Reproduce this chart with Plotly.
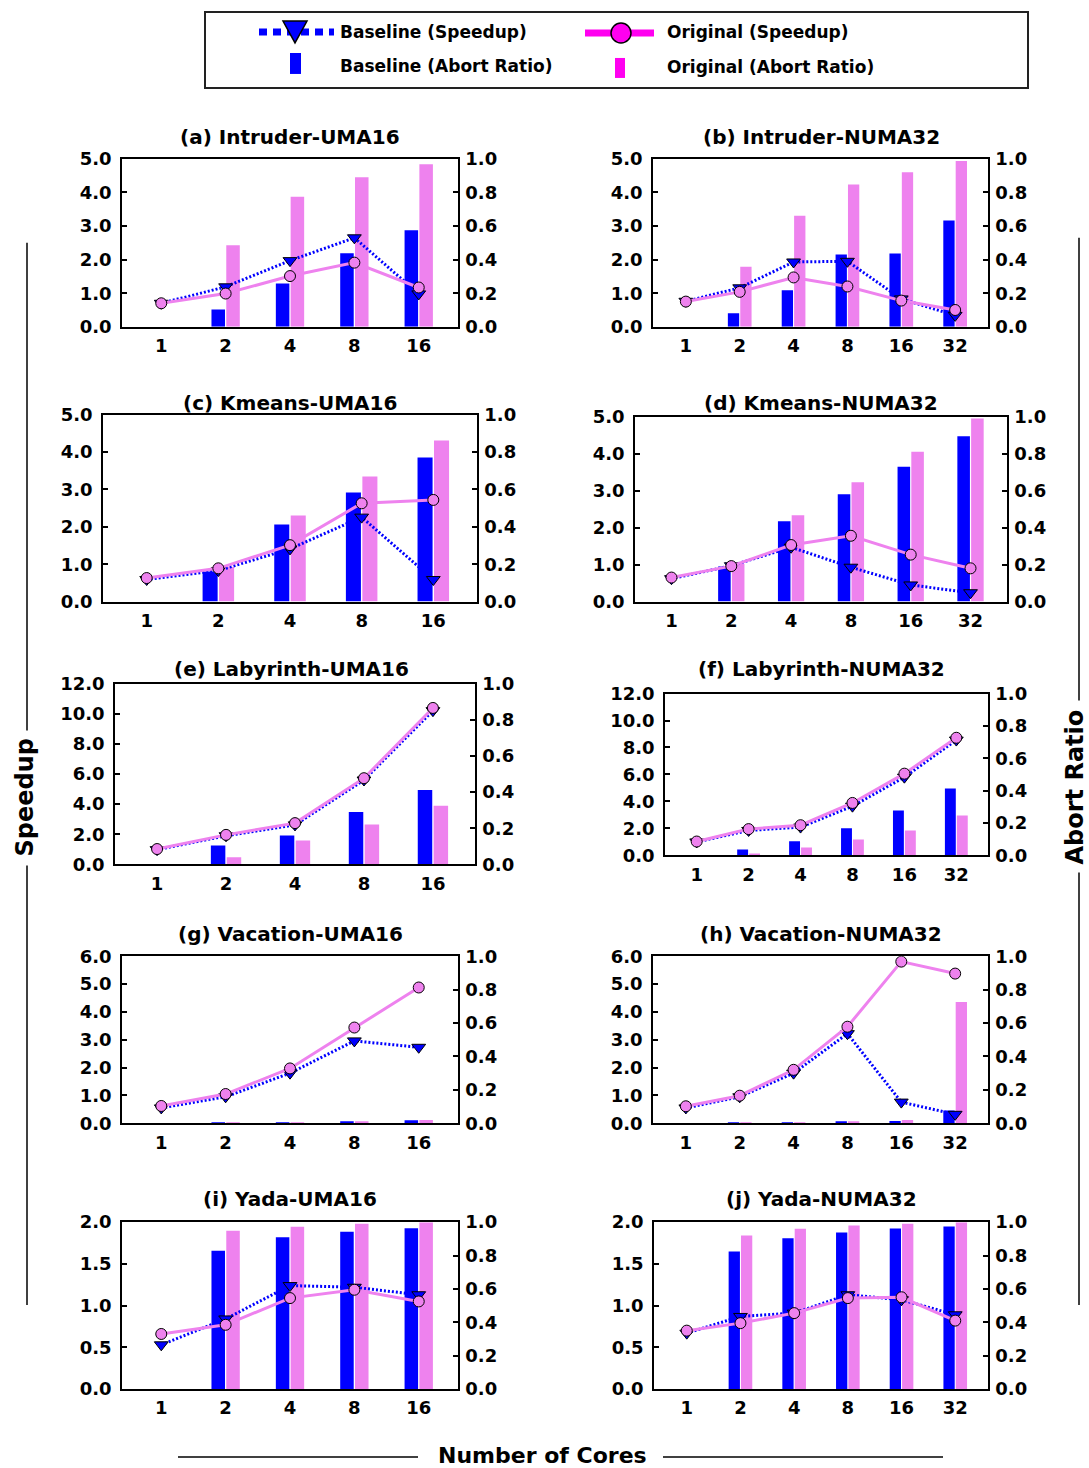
import plotly.graph_objects as go

W, H = 1089, 1468

# ---------------- data ----------------
cores_uma = ["1", "2", "4", "8", "16"]
cores_numa = ["1", "2", "4", "8", "16", "32"]

titles = ["(a) Intruder-UMA16", "(b) Intruder-NUMA32",
          "(c) Kmeans-UMA16", "(d) Kmeans-NUMA32",
          "(e) Labyrinth-UMA16", "(f) Labyrinth-NUMA32",
          "(g) Vacation-UMA16", "(h) Vacation-NUMA32",
          "(i) Yada-UMA16", "(j) Yada-NUMA32"]

speedup_max = [5, 5, 5, 5, 12, 12, 6, 6, 2, 2]
speedup_dtick = [1, 1, 1, 1, 2, 2, 1, 1, 0.5, 0.5]

# (a) Intruder-UMA16
base_speedup_a = [0.70, 1.19, 1.97, 2.65, 0.98]
orig_speedup_a = [0.70, 0.99, 1.51, 1.91, 1.17]
base_abort_a = [0.0, 0.103, 0.258, 0.438, 0.575]
orig_abort_a = [0.0, 0.486, 0.774, 0.891, 0.968]
# (b) Intruder-NUMA32
base_speedup_b = [0.76, 1.16, 1.93, 1.95, 0.83, 0.34]
orig_speedup_b = [0.75, 1.04, 1.47, 1.20, 0.78, 0.50]
base_abort_b = [0.0, 0.081, 0.218, 0.430, 0.437, 0.633]
orig_abort_b = [0.0, 0.357, 0.661, 0.847, 0.921, 0.988]
# (c) Kmeans-UMA16
base_speedup_c = [0.59, 0.83, 1.41, 2.26, 0.59]
orig_speedup_c = [0.63, 0.89, 1.51, 2.63, 2.72]
base_abort_c = [0.0, 0.161, 0.413, 0.584, 0.771]
orig_abort_c = [0.0, 0.185, 0.461, 0.670, 0.862]
# (d) Kmeans-NUMA32
base_speedup_d = [0.62, 0.97, 1.47, 0.93, 0.45, 0.24]
orig_speedup_d = [0.65, 0.96, 1.53, 1.78, 1.27, 0.90]
base_abort_d = [0.0, 0.190, 0.434, 0.580, 0.729, 0.895]
orig_abort_d = [0.0, 0.204, 0.467, 0.646, 0.810, 0.990]
# (e) Labyrinth-UMA16
base_speedup_e = [0.98, 1.90, 2.62, 5.60, 10.20]
orig_speedup_e = [1.02, 1.96, 2.74, 5.72, 10.38]
base_abort_e = [0.0, 0.105, 0.160, 0.290, 0.412]
orig_abort_e = [0.0, 0.039, 0.132, 0.220, 0.325]
# (f) Labyrinth-NUMA32
base_speedup_f = [1.00, 1.85, 2.10, 3.65, 5.80, 8.55]
orig_speedup_f = [1.03, 1.95, 2.24, 3.89, 6.06, 8.72]
base_abort_f = [0.0, 0.037, 0.088, 0.168, 0.277, 0.413]
orig_abort_f = [0.0, 0.012, 0.049, 0.099, 0.154, 0.246]
# (g) Vacation-UMA16
base_speedup_g = [0.55, 0.95, 1.80, 2.96, 2.73]
orig_speedup_g = [0.62, 1.05, 1.97, 3.44, 4.88]
base_abort_g = [0.0, 0.003, 0.003, 0.006, 0.018]
orig_abort_g = [0.0, 0.002, 0.002, 0.006, 0.020]
# (h) Vacation-NUMA32
base_speedup_h = [0.55, 0.95, 1.80, 3.22, 0.76, 0.32]
orig_speedup_h = [0.61, 0.99, 1.92, 3.47, 5.81, 5.38]
base_abort_h = [0.0, 0.003, 0.004, 0.010, 0.014, 0.076]
orig_abort_h = [0.0, 0.002, 0.003, 0.008, 0.020, 0.726]
# (i) Yada-UMA16
base_speedup_i = [0.53, 0.84, 1.24, 1.22, 1.13]
orig_speedup_i = [0.66, 0.77, 1.09, 1.19, 1.05]
base_abort_i = [0.0, 0.828, 0.910, 0.942, 0.964]
orig_abort_i = [0.0, 0.948, 0.972, 0.990, 1.000]
# (j) Yada-NUMA32
base_speedup_j = [0.67, 0.87, 0.91, 1.13, 1.07, 0.89]
orig_speedup_j = [0.70, 0.79, 0.91, 1.09, 1.10, 0.82]
base_abort_j = [0.0, 0.824, 0.904, 0.938, 0.962, 0.974]
orig_abort_j = [0.0, 0.920, 0.960, 0.980, 0.990, 1.000]

panels = [
    (cores_uma, base_speedup_a, orig_speedup_a, base_abort_a, orig_abort_a),
    (cores_numa, base_speedup_b, orig_speedup_b, base_abort_b, orig_abort_b),
    (cores_uma, base_speedup_c, orig_speedup_c, base_abort_c, orig_abort_c),
    (cores_numa, base_speedup_d, orig_speedup_d, base_abort_d, orig_abort_d),
    (cores_uma, base_speedup_e, orig_speedup_e, base_abort_e, orig_abort_e),
    (cores_numa, base_speedup_f, orig_speedup_f, base_abort_f, orig_abort_f),
    (cores_uma, base_speedup_g, orig_speedup_g, base_abort_g, orig_abort_g),
    (cores_numa, base_speedup_h, orig_speedup_h, base_abort_h, orig_abort_h),
    (cores_uma, base_speedup_i, orig_speedup_i, base_abort_i, orig_abort_i),
    (cores_numa, base_speedup_j, orig_speedup_j, base_abort_j, orig_abort_j),
]

# ---------------- layout (pixel boxes of each plot area) ----------------
boxes = [
    (122, 158, 458, 326), (653, 158, 988, 326),
    (103, 414, 477, 601), (635, 416, 1007, 601),
    (115, 683, 475, 864), (665, 693, 988, 855),
    (122, 956, 458, 1123), (653, 956, 988, 1123),
    (122, 1222, 458, 1389), (654, 1222, 988, 1389),
]
title_pos = [(290, 136), (821, 136), (290, 402), (821, 402), (291, 668),
             (821, 668), (290, 934), (821, 934), (290, 1199), (821, 1199)]

BLUE = "#0000FF"
VIOLET = "#EE82EE"
MAGENTA = "#FF00F0"
FONT = "DejaVu Sans"

# vertical calibration of the rendered page (paper spans screen rows TOP..BOT)
TOP, BOT = 10.0, 1458.0


def px(x):
    return x / W


def py(y):
    return (BOT - y) / (BOT - TOP)


fig = go.Figure()
layout = dict(
    width=W, height=H, margin=dict(l=0, r=0, t=0, b=0),
    paper_bgcolor="white", plot_bgcolor="white", showlegend=False,
    font=dict(family=FONT, color="black"),
    annotations=[], shapes=[],
)

for k, (cores, bs, os_, ba, oa) in enumerate(panels):
    xi = k + 1
    ya = 2 * k + 1   # abort ratio (right, base axis)
    ys = 2 * k + 2   # speedup (left, overlaid so lines sit above bars)
    xname = "x" if xi == 1 else f"x{xi}"
    yaname = "y" if ya == 1 else f"y{ya}"
    ysname = f"y{ys}"
    n = len(cores)
    x0, y0, x1, y1 = boxes[k]

    fig.add_trace(go.Bar(x=cores, y=ba, xaxis=xname, yaxis=yaname,
                         marker=dict(color=BLUE, line=dict(width=0)),
                         width=0.21, offset=-0.22, name="Baseline (Abort Ratio)"))
    fig.add_trace(go.Bar(x=cores, y=oa, xaxis=xname, yaxis=yaname,
                         marker=dict(color=VIOLET, line=dict(width=0)),
                         width=0.21, offset=0.01, name="Original (Abort Ratio)"))
    fig.add_trace(go.Scatter(x=cores, y=bs, xaxis=xname, yaxis=ysname,
                             mode="lines+markers",
                             line=dict(color=BLUE, width=3, dash="2px,2px"),
                             marker=dict(symbol="triangle-down", size=12, color=BLUE,
                                         line=dict(color="black", width=1)),
                             name="Baseline (Speedup)"))
    fig.add_trace(go.Scatter(x=cores, y=os_, xaxis=xname, yaxis=ysname,
                             mode="lines+markers",
                             line=dict(color=VIOLET, width=3),
                             marker=dict(symbol="circle", size=11, color=VIOLET,
                                         line=dict(color="black", width=1)),
                             name="Original (Speedup)"))

    tickfont = dict(family=FONT, size=18, color="black", weight="bold")
    layout["xaxis" if xi == 1 else f"xaxis{xi}"] = dict(
        domain=[px(x0), px(x1)], anchor=yaname, type="category",
        range=[-0.61, n - 1 + 0.61], showline=True, mirror=True,
        linecolor="black", linewidth=1.5, ticks="", showgrid=False,
        zeroline=False, tickfont=tickfont, fixedrange=True, ticklabelstandoff=2)
    layout["yaxis" if ya == 1 else f"yaxis{ya}"] = dict(
        domain=[py(y1), py(y0)], anchor=xname, side="right",
        range=[0, 1], dtick=0.2, tick0=0, tickformat=".1f",
        ticks="inside", ticklen=5, tickwidth=1.5, tickcolor="black",
        showline=True, linecolor="black", linewidth=1.5, showgrid=False,
        zeroline=False, tickfont=tickfont, ticklabelstandoff=2)
    layout[f"yaxis{ys}"] = dict(
        overlaying=yaname, anchor=xname, side="left",
        range=[0, speedup_max[k]], dtick=speedup_dtick[k], tick0=0,
        tickformat=".1f", ticks="inside", ticklen=5, tickwidth=1.5,
        tickcolor="black", showline=True, linecolor="black", linewidth=1.5,
        showgrid=False, zeroline=False, tickfont=tickfont, ticklabelstandoff=5)

    tx, ty = title_pos[k]
    layout["annotations"].append(dict(
        text=titles[k], x=px(tx), y=py(ty), xref="paper", yref="paper",
        showarrow=False, xanchor="center", yanchor="middle",
        font=dict(family=FONT, size=20, color="black", weight="bold")))

# ---------------- big axis titles ----------------
big = dict(family=FONT, size=24, color="black", weight="bold")
layout["annotations"] += [
    dict(text="Speedup", x=px(25), y=py(797), xref="paper", yref="paper",
         xanchor="center", yanchor="middle",
         showarrow=False, textangle=-90, font=big),
    dict(text="Abort Ratio", x=px(1075), y=py(787), xref="paper", yref="paper",
         xanchor="center", yanchor="middle",
         showarrow=False, textangle=-90, font=big),
    dict(text="Number of Cores", x=px(542), y=py(1455), xref="paper", yref="paper",
         xanchor="center", yanchor="middle",
         showarrow=False, font=dict(family=FONT, size=22, color="black", weight="bold")),
]


def pline(xa, ya_, xb, yb, **kw):
    d = dict(type="line", xref="paper", yref="paper",
             x0=px(xa), y0=py(ya_), x1=px(xb), y1=py(yb),
             line=dict(color="black", width=1.5))
    d["line"].update(kw)
    return d


layout["shapes"] += [
    pline(27, 242, 27, 730), pline(27, 865, 27, 1305),
    pline(1079, 237, 1079, 700), pline(1079, 872, 1079, 1305),
    pline(178, 1457, 418, 1457), pline(663, 1457, 943, 1457),
]

# ---------------- legend (drawn) ----------------
layout["shapes"] += [
    dict(type="rect", xref="paper", yref="paper", x0=px(205), y0=py(11), x1=px(1028), y1=py(87),
         line=dict(color="#222222", width=2), fillcolor="rgba(0,0,0,0)"),
    pline(259, 31, 334, 31, color=BLUE, width=7, dash="8px,6px"),
    dict(type="path", xref="paper", yref="paper",
         path=f"M {px(283)},{py(20)} L {px(307)},{py(20)} L {px(295)},{py(42)} Z",
         fillcolor=BLUE, line=dict(color="black", width=1.5)),
    dict(type="rect", xref="paper", yref="paper", x0=px(290), y0=py(52), x1=px(301), y1=py(73),
         fillcolor=BLUE, line=dict(width=0)),
    pline(585, 32, 654, 32, color=MAGENTA, width=7),
    dict(type="circle", xref="paper", yref="paper", x0=px(611), y0=py(42), x1=px(631), y1=py(22),
         fillcolor=MAGENTA, line=dict(color="black", width=1.5)),
    dict(type="rect", xref="paper", yref="paper", x0=px(615), y0=py(57), x1=px(625), y1=py(77),
         fillcolor=MAGENTA, line=dict(width=0)),
]
leg = dict(family=FONT, size=17, color="black", weight="bold")
for text, lx, ly in [("Baseline (Speedup)", 338, 31), ("Baseline (Abort Ratio)", 338, 65),
                     ("Original (Speedup)", 665, 31), ("Original (Abort Ratio)", 665, 66)]:
    layout["annotations"].append(dict(text=text, x=px(lx), y=py(ly), xref="paper", yref="paper",
                                      showarrow=False, xanchor="left", yanchor="middle", font=leg))

fig.update_layout(**layout)
fig.write_html("out.html",
               config={"displayModeBar": False},
               post_script="document.body.style.margin='0';document.body.style.overflow='hidden';")
